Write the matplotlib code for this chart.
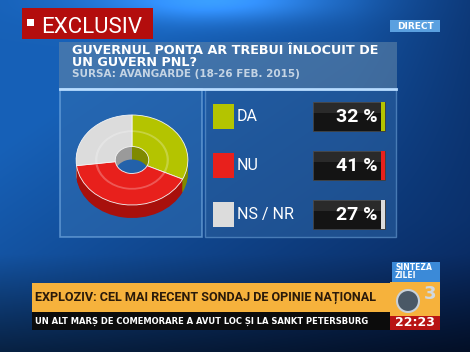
import numpy as np
import matplotlib.pyplot as plt
from matplotlib.patches import Rectangle

# --- data ---
answers = ['DA', 'NU', 'NS / NR']
shares = [32, 41, 27]
colors = ['#b4c400', '#e8201c', '#dcdcdc']
side_colors = ['#7f8a00', '#a8100c', '#9a9a9a']
title_lines = ['GUVERNUL PONTA AR TREBUI ÎNLOCUIT DE', 'UN GUVERN PNL?']
source = 'SURSA: AVANGARDE (18-26 FEB. 2015)'
headline = 'EXPLOZIV: CEL MAI RECENT SONDAJ DE OPINIE NAȚIONAL'
ticker = 'UN ALT MARȘ DE COMEMORARE A AVUT LOC ȘI LA SANKT PETERSBURG'
clock = '22:23'

W, H = 470, 352
fig = plt.figure(figsize=(W / 100, H / 100), dpi=100)
ax = fig.add_axes([0, 0, 1, 1])
ax.set_xlim(0, W)
ax.set_ylim(H, 0)
ax.axis('off')

# background: blue, darker to the right / bottom, glow at top
yy, xx = np.mgrid[0:H, 0:W] / np.array([H, W])[:, None, None]
base = np.array([0.09, 0.38, 0.72])
dark = np.array([0.02, 0.10, 0.28])
t = np.clip(0.55 * xx + 0.6 * yy - 0.25, 0, 1)
t = np.clip(t + 0.5 * np.clip((xx - 0.75) * 2, 0, 1) * np.clip(1 - yy * 1.6, 0, 1), 0, 1)
bg = base * (1 - t[..., None]) + dark * t[..., None]
glow = np.exp(-((xx - 0.45) / 0.25) ** 2 - (yy / 0.06) ** 2) * 0.35
bg = np.clip(bg + glow[..., None] * np.array([0.4, 0.7, 1.0]), 0, 1)
bot = np.clip((yy - 0.72) * 3.5, 0, 1)
bg = bg * (1 - 0.55 * bot[..., None])
ax.imshow(bg, extent=(0, W, H, 0), zorder=0, aspect='auto')

narrow = 'Roboto'

# EXCLUSIV tag
ax.add_patch(Rectangle((22, 8), 131, 31, fc='#b30d0d', ec='none', zorder=2))
ax.add_patch(Rectangle((27, 19), 7, 7, fc='white', ec='none', zorder=3))
ax.text(41, 27.5, 'EXCLUSIV', color='white', fontsize=16, family=narrow,
        va='center', ha='left', zorder=3)

# DIRECT tag
ax.add_patch(Rectangle((390, 20), 50, 12, fc='#5aa0e0', ec='none', zorder=2))
ax.text(415, 26.5, 'DIRECT', color='white', fontsize=6.5, weight='bold',
        va='center', ha='center', zorder=3)

# title panel
ax.add_patch(Rectangle((59, 42), 338, 46, fc='#5f84a8', ec='none', alpha=0.6, zorder=1))
ax.text(72, 56.5, '\n'.join(title_lines), color='white', fontsize=9.2,
        weight='bold', linespacing=0.85, va='center', ha='left', zorder=3)
ax.text(72, 74, source, color='#c4d4e4', fontsize=7.5, weight='bold',
        va='center', ha='left', zorder=3)

# lower panels
ax.add_patch(Rectangle((60, 89), 142, 148, fc='#2f6cb0', ec='#7fb4e8', lw=1.2, alpha=0.6, zorder=1))
ax.add_patch(Rectangle((205, 89), 191, 148, fc='#2a5f9e', ec='#6a9ed4', lw=1.0, alpha=0.6, zorder=1))
ax.plot([60, 396], [89, 89], color='#b8dcff', lw=2, zorder=2)

# legend rows with value boxes
row_y = [116, 165, 214]
for name, val, c, y in zip(answers, shares, colors, row_y):
    ax.add_patch(Rectangle((213, y - 12.5), 21, 25, fc=c, ec='none', zorder=3))
    ax.text(237, y + 0.5, name, color='white', fontsize=11.5, family=narrow,
            va='center', ha='left', zorder=3)
    ax.add_patch(Rectangle((313, y - 14.5), 72, 29, fc='#141414', ec='#444444', lw=0.6, zorder=3))
    ax.add_patch(Rectangle((313, y - 14.5), 72, 11, fc='#555555', ec='none', alpha=0.35, zorder=3))
    ax.add_patch(Rectangle((381, y - 14.5), 4, 29, fc=c, ec='none', zorder=4))
    ax.text(378, y + 1, f'{val} %', color='white', fontsize=14, weight='bold',
            family=narrow, va='center', ha='right', zorder=5)

# 3D-ish donut: side layers then top face
cx, cy, rx, ry, depth = 132, 160, 57, 45, 13
pax = fig.add_axes([(cx - rx) / W, 1 - (cy + ry + depth) / H,
                    2 * rx / W, (2 * ry + depth) / H])
pax.set_zorder(5)
k_depth = 2 * depth / (2 * ry)
for k in np.linspace(k_depth, 0.02, 12):
    pax.pie(shares, colors=side_colors, startangle=90, counterclock=False,
            center=(0, -k), radius=1, wedgeprops=dict(width=0.7, lw=0))
pax.pie(shares, colors=colors, startangle=90, counterclock=False,
        radius=1, wedgeprops=dict(width=0.7, lw=0.6, ec='#f4f4f4'))
pax.pie(shares, colors=['none'] * 3, startangle=90, counterclock=False,
        radius=0.66, wedgeprops=dict(width=0.04, lw=0, fc='white', alpha=0.25))
pax.set_aspect('auto')
pax.set_xlim(-1.02, 1.02)
pax.set_ylim(-1 - k_depth, 1.0)
pax.axis('off')

# bottom strips
ax.add_patch(Rectangle((32, 283), 358, 29, fc='#f6b23c', ec='none', zorder=2))
ax.text(35, 298, headline, color='#2a1a0a', fontsize=9.1, weight='bold',
        family=narrow, va='center', ha='left', zorder=3)
ax.add_patch(Rectangle((32, 312), 358, 18, fc='#0c0c0c', ec='none', zorder=2))
ax.text(35, 321, ticker, color='white', fontsize=6.0, weight='bold',
        va='center', ha='left', zorder=3)

# logo + clock
ax.add_patch(Rectangle((392, 262), 48, 20, fc='#3b8ad8', ec='none', zorder=2))
ax.text(395, 267, 'SINTEZA', color='white', fontsize=5.5, weight='bold', va='center', ha='left', zorder=3)
ax.text(395, 276, 'ZILEI', color='white', fontsize=5.5, weight='bold', va='center', ha='left', zorder=3)
ax.add_patch(Rectangle((390, 282), 50, 34, fc='#f6b23c', ec='none', zorder=2))
ax.add_patch(plt.Circle((408, 301), 11, fc='#4a5866', ec='#c8d0d8', lw=1.5, zorder=3))
ax.text(430, 294, '3', color='#d0d8e0', fontsize=13, weight='bold', va='center', ha='center', zorder=4)
ax.add_patch(Rectangle((390, 316), 50, 14, fc='#b81414', ec='none', zorder=2))
ax.text(415, 323, clock, color='white', fontsize=9, weight='bold', va='center', ha='center', zorder=3)

fig.savefig('out.png', dpi=100)
